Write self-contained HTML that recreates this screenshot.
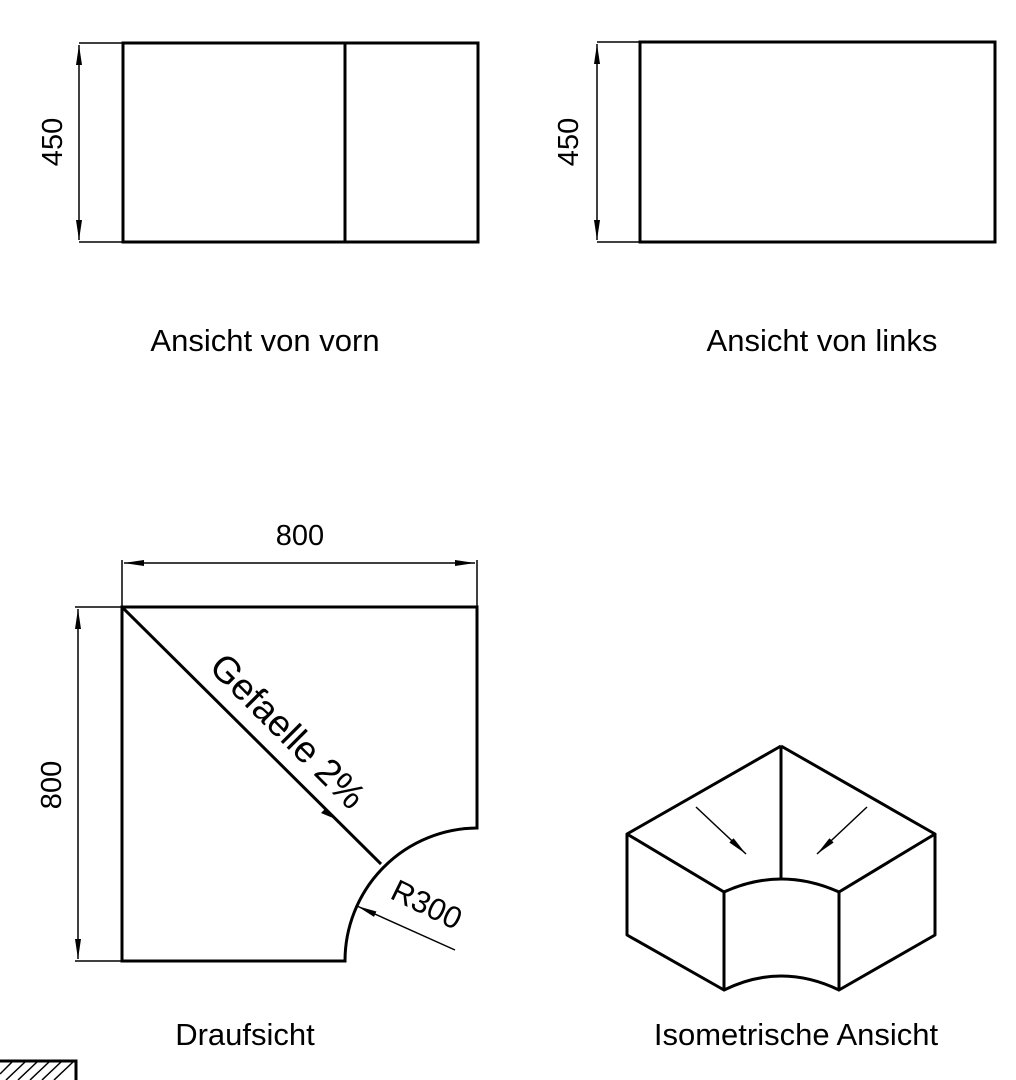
<!DOCTYPE html>
<html><head><meta charset="utf-8"><style>html,body{margin:0;padding:0;background:#fff}svg{display:block}</style></head><body>
<svg width="1016" height="1080" viewBox="0 0 1016 1080" xmlns="http://www.w3.org/2000/svg" font-family="Liberation Sans, sans-serif">
<defs>
<marker id="a" viewBox="0 0 20 6" refX="20" refY="3" markerWidth="20" markerHeight="6" markerUnits="userSpaceOnUse" orient="auto-start-reverse"><path d="M0,0 L20,3 L0,6 Z" fill="#000"/></marker>
</defs>
<g stroke="#000" fill="none">
<rect x="123" y="43" width="355" height="199" stroke-width="3"/>
<line x1="345" y1="43" x2="345" y2="242" stroke-width="3"/>
<line x1="79" y1="43" x2="123" y2="43" stroke-width="1.5"/>
<line x1="79" y1="242" x2="123" y2="242" stroke-width="1.5"/>
<line x1="79" y1="45" x2="79" y2="240" stroke-width="1.5" marker-start="url(#a)" marker-end="url(#a)"/>
<rect x="640" y="42" width="355" height="200" stroke-width="3"/>
<line x1="597" y1="42" x2="640" y2="42" stroke-width="1.5"/>
<line x1="597" y1="242" x2="640" y2="242" stroke-width="1.5"/>
<line x1="597" y1="44" x2="597" y2="240" stroke-width="1.5" marker-start="url(#a)" marker-end="url(#a)"/>
<path d="M122,607 L477,607 L477,828 A133,133 0 0 0 345,961 L122,961 Z" stroke-width="3"/>
<line x1="122" y1="607" x2="381" y2="864" stroke-width="3"/>
<path d="M333,818 l-12,-5 l5,-5 Z" fill="#000" stroke="none"/>
<line x1="122" y1="560" x2="122" y2="607" stroke-width="1.5"/>
<line x1="477" y1="560" x2="477" y2="607" stroke-width="1.5"/>
<line x1="124" y1="563" x2="475" y2="563" stroke-width="1.5" marker-start="url(#a)" marker-end="url(#a)"/>
<line x1="75" y1="607" x2="122" y2="607" stroke-width="1.5"/>
<line x1="75" y1="961" x2="122" y2="961" stroke-width="1.5"/>
<line x1="78" y1="609" x2="78" y2="959" stroke-width="1.5" marker-start="url(#a)" marker-end="url(#a)"/>
<line x1="455" y1="950" x2="357" y2="906" stroke-width="1.5" marker-end="url(#a)"/>
<g stroke-width="3" stroke-linejoin="round">
<path d="M781,746 L627,834 L724,892 M781,746 L935,834 L839,892 M781,746 L781,879"/>
<path d="M724,892 Q781,866 839,892"/>
<path d="M627,834 L627,935 L724,990 L724,892 M935,834 L935,935 L839,990 L839,892"/>
<path d="M724,990 Q781,962 839,990"/>
</g>
<line x1="696" y1="807" x2="746" y2="854" stroke-width="1.5" marker-end="url(#a)"/>
<line x1="867" y1="807" x2="817" y2="854" stroke-width="1.5" marker-end="url(#a)"/>
<path d="M0,1061 L76,1061 L76,1080" stroke-width="3"/>
<path d="M0,1074 L12,1062 M6,1080 L25,1062 M18,1080 L37,1062 M30,1080 L49,1062 M42,1080 L61,1062 M54,1080 L73,1062" stroke-width="1.5"/>
</g>
<g font-size="31" fill="#000">
<text x="265" y="351" text-anchor="middle">Ansicht von vorn</text>
<text x="822" y="351" text-anchor="middle">Ansicht von links</text>
<text x="245" y="1045" text-anchor="middle">Draufsicht</text>
<text x="796" y="1045" text-anchor="middle">Isometrische Ansicht</text>
<text x="300" y="545" text-anchor="middle" font-size="29">800</text>
<text transform="translate(62,142) rotate(-90)" text-anchor="middle" font-size="29">450</text>
<text transform="translate(578,142) rotate(-90)" text-anchor="middle" font-size="29">450</text>
<text transform="translate(61,785) rotate(-90)" text-anchor="middle" font-size="29">800</text>
<text transform="translate(279,740) rotate(45)" text-anchor="middle" font-size="37">Gefaelle 2%</text>
<text transform="translate(422,914) rotate(26)" text-anchor="middle" font-size="31">R300</text>
</g>
</svg>
</body></html>
